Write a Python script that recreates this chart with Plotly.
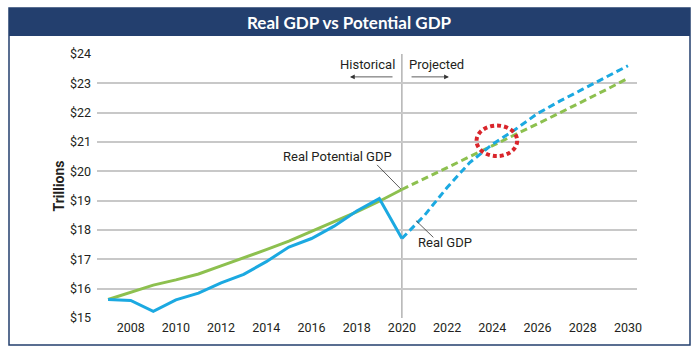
import plotly.graph_objects as go

# ---- data ----
hist_years = [2007, 2008, 2009, 2010, 2011, 2012, 2013, 2014, 2015, 2016, 2017, 2018, 2019, 2020]
potential_hist = [15.63, 15.88, 16.12, 16.30, 16.50, 16.78, 17.05, 17.33, 17.62, 17.95, 18.28, 18.62, 18.98, 19.38]
real_hist = [15.63, 15.60, 15.23, 15.62, 15.85, 16.20, 16.49, 16.92, 17.42, 17.71, 18.13, 18.65, 19.07, 17.71]

proj_years = [2020, 2021, 2022, 2023, 2024, 2025, 2026, 2027, 2028, 2029, 2030]
potential_proj = [19.38, 19.75, 20.12, 20.50, 20.88, 21.25, 21.62, 22.00, 22.38, 22.77, 23.17]
real_proj = [17.71, 18.50, 19.45, 20.30, 20.92, 21.42, 21.97, 22.40, 22.80, 23.20, 23.60]

x_ticks = list(range(2008, 2031, 2))
y_ticks = list(range(15, 25))

GREEN = "#8DC04F"
BLUE = "#1BA9E1"
RED = "#D9252B"
NAVY = "#233F6E"
TXT = "#231F20"
FONT = "Roboto"

W, H = 699, 353
L, R, T, B = 97, 637, 54, 318


def px(xp):
    return (xp - L) / (R - L)


def py(yp):
    return (B - yp) / (B - T)


fig = go.Figure()
fig.add_trace(go.Scatter(x=hist_years, y=potential_hist, mode="lines",
                         line=dict(color=GREEN, width=3), hoverinfo="skip"))
fig.add_trace(go.Scatter(x=hist_years, y=real_hist, mode="lines",
                         line=dict(color=BLUE, width=3), hoverinfo="skip"))
fig.add_trace(go.Scatter(x=proj_years, y=potential_proj, mode="lines",
                         line=dict(color=GREEN, width=3, dash="7px,4px"), hoverinfo="skip"))
fig.add_trace(go.Scatter(x=proj_years, y=real_proj, mode="lines",
                         line=dict(color=BLUE, width=3, dash="7px,4px"), hoverinfo="skip"))

shapes = [
    # outer border
    dict(type="rect", xref="paper", yref="paper", x0=px(9), x1=px(690), y0=py(345), y1=py(8),
         line=dict(color=NAVY, width=1.5), fillcolor="rgba(0,0,0,0)", layer="below"),
    # header bar
    dict(type="rect", xref="paper", yref="paper", x0=px(9), x1=px(690), y0=py(36), y1=py(8),
         line=dict(width=0), fillcolor=NAVY, layer="below"),
    # divider at 2020
    dict(type="line", xref="x", yref="y", x0=2020, x1=2020, y0=15, y1=24,
         line=dict(color="#8C8C8C", width=1), layer="below"),
    # red dotted ellipse
    dict(type="circle", xref="x", yref="y", x0=2023.3, x1=2025.1, y0=20.52, y1=21.56,
         line=dict(color=RED, width=4, dash="4px,3px")),
    # leader lines
    dict(type="line", xref="x", yref="y", x0=2018.90, y0=20.22, x1=2019.95, y1=19.40,
         line=dict(color="#333333", width=0.8)),
    dict(type="line", xref="x", yref="y", x0=2020.62, y0=18.32, x1=2021.39, y1=17.75,
         line=dict(color="#333333", width=0.8)),
]

annotations = [
    dict(text="<b>Real GDP vs Potential GDP</b>", xref="paper", yref="paper",
         x=px(349), y=py(22), showarrow=False, font=dict(family="Lato", size=17, color="white"),
         xanchor="center", yanchor="middle"),
    dict(text="Historical", xref="x", yref="y", x=2019.77, y=23.63, showarrow=False,
         xanchor="right", yanchor="middle", font=dict(family=FONT, size=13, color=TXT)),
    dict(text="Projected", xref="x", yref="y", x=2020.23, y=23.63, showarrow=False,
         xanchor="left", yanchor="middle", font=dict(family=FONT, size=13, color=TXT)),
    dict(text="", xref="x", yref="y", x=2017.70, y=23.22, ax=2019.65, ay=23.22,
         axref="x", ayref="y", showarrow=True, arrowhead=2, arrowsize=1.2, arrowwidth=0.8,
         arrowcolor="#333333"),
    dict(text="", xref="x", yref="y", x=2022.08, y=23.22, ax=2020.36, ay=23.22,
         axref="x", ayref="y", showarrow=True, arrowhead=2, arrowsize=1.2, arrowwidth=0.8,
         arrowcolor="#333333"),
    dict(text="Real Potential GDP", xref="x", yref="y", x=2017.13, y=20.49, showarrow=False,
         xanchor="center", yanchor="middle", font=dict(family=FONT, size=13, color=TXT)),
    dict(text="Real GDP", xref="x", yref="y", x=2021.91, y=17.56, showarrow=False,
         xanchor="center", yanchor="middle", font=dict(family=FONT, size=13, color=TXT)),
]

fig.update_layout(
    width=W, height=H,
    margin=dict(l=L, r=W - R, t=T, b=H - B, pad=0),
    paper_bgcolor="white", plot_bgcolor="white",
    showlegend=False,
    shapes=shapes, annotations=annotations,
    font=dict(family=FONT, size=12, color=TXT),
    xaxis=dict(range=[2006.51, 2030.40], tickmode="array", tickvals=x_ticks,
               showgrid=False, zeroline=False, showline=False, ticks="",
               tickfont=dict(family=FONT, size=12.5, color=TXT), fixedrange=True),
    yaxis=dict(range=[15, 24], tickmode="array", tickvals=y_ticks,
               ticktext=[f"${v}" for v in y_ticks],
               showgrid=True, gridcolor="#C8C8C8", gridwidth=1.5, zeroline=False,
               showline=False, ticks="", ticklabelstandoff=5,
               tickfont=dict(family=FONT, size=12.5, color=TXT),
               title=dict(text="<b>Trillions</b>", standoff=2,
                          font=dict(family=FONT, size=14, color=TXT)),
               fixedrange=True),
)

fig.write_html("out.html", config={"displayModeBar": False})
